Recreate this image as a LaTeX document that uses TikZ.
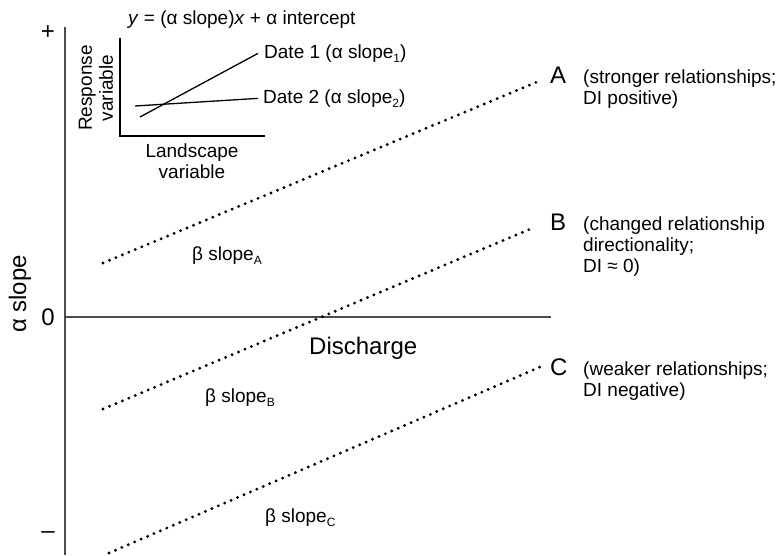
\documentclass[tikz,border=0pt]{standalone}
\usepackage{fontspec}
\setmainfont{Liberation Sans}
\usetikzlibrary{positioning}
\newcommand{\lowsub}[1]{\raisebox{-4.5pt}{\fontsize{12}{12}\selectfont #1}}
\tikzset{
  axis/.style = {line width=1.4pt, draw=black!70},
  trend/.style = {line width=3.2pt, line cap=round, dash pattern=on 0pt off 7pt},
  inset/.style = {line width=1.3pt},
  big/.style = {font=\fontsize{24}{28}\selectfont, inner sep=0pt},
  small/.style = {font=\fontsize{19}{21}\selectfont, inner sep=0pt},
  note/.style = {small, align=left}
}

\begin{document}
\begin{tikzpicture}[x=1pt, y=-1pt]
\useasboundingbox (0,0) rectangle (779,555);

% main axes
\coordinate (top) at (65,27);
\coordinate (bottom) at (65,555);
\coordinate (zero) at (65,317);
\coordinate (right) at (551,317);
\draw[axis] (top) -- (bottom);
\draw[axis] (zero) -- (right);

\node[big] (plus) at (48,33) {+};
\node[big] (nought) at (48,317) {0};
\node[big] (minus) at (48,535) {--};
\node[big, rotate=90] (alpha) at (20,294) {α slope};
\node[big, anchor=base west] (discharge) at (309,354) {Discharge};

% inset: one relationship on two dates
\node[small, anchor=base west] (eqn) at (128,24) {\textit{y} = (α slope)\textit{x} + α intercept};
\coordinate (itop) at (120,38);
\coordinate (iorig) at (120,136);
\coordinate (iright) at (265,136);
\draw[inset] (itop) -- (iorig) -- (iright);
\node[small, rotate=90, align=center] (resp) at (96,88) {Response\\variable};
\node[small, align=center, anchor=north] (land) at (192,144) {Landscape\\variable};
\node[small, anchor=base west, inner xsep=6pt] (date1) at (258,58) {Date 1 (α slope\lowsub{1})};
\node[small, anchor=base west, inner xsep=5pt] (date2) at (258,103) {Date 2 (α slope\lowsub{2})};
\coordinate (d1) at (140,117);
\coordinate (d2) at (135,106);
\draw[inset] (d1) -- (date1.west);
\draw[inset] (d2) -- (date2.west);

% beta slopes
\coordinate (startA) at (103,263);
\coordinate (startB) at (103,409);
\coordinate (startC) at (109,553);
\node[big, anchor=base west] (labA) at (550,83) {A};
\node[big, anchor=base west] (labB) at (550,230) {B};
\node[big, anchor=base west] (labC) at (550,375) {C};
\coordinate (endA) at (537,82);
\coordinate (endB) at (535,227);
\coordinate (endC) at (540,367);
\draw[trend] (startA) -- (endA);
\draw[trend] (startB) -- (endB);
\draw[trend] (startC) -- (endC);

\node[small, anchor=base west] (betaA) at (192,260) {β slope\lowsub{A}};
\node[small, anchor=base west] (betaB) at (205,402) {β slope\lowsub{B}};
\node[small, anchor=base west] (betaC) at (265,522) {β slope\lowsub{C}};

\node[note, anchor=north west] (noteA) at (583,69.5) {(stronger relationships;\\DI positive)};
\node[note, anchor=north west] (noteB) at (583,216.5) {(changed relationship\\directionality;\\DI ≈ 0)};
\node[note, anchor=north west] (noteC) at (583,361.5) {(weaker relationships;\\DI negative)};

\end{tikzpicture}
\end{document}
